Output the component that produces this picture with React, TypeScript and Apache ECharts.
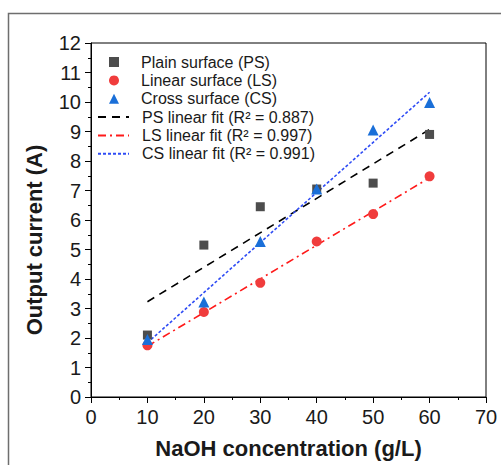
import React, { useEffect, useRef } from "react";
import * as echarts from "echarts";

const concentrations = [10, 20, 30, 40, 50, 60];
const psValues = [2.1, 5.15, 6.45, 7.05, 7.25, 8.9];
const lsValues = [1.75, 2.88, 3.87, 5.27, 6.2, 7.48];
const csValues = [1.95, 3.22, 5.27, 7.05, 9.05, 9.98];

const fitX = [10, 60];
const psFit = [3.23, 9.07];
const lsFit = [1.72, 7.43];
const csFit = [1.84, 10.33];

const scatterNames = ["Plain surface (PS)", "Linear surface (LS)", "Cross surface (CS)"];
const fitNames = [
  "PS linear fit (R² = 0.887)",
  "LS linear fit (R² = 0.997)",
  "CS linear fit (R² = 0.991)",
];

const xTitle = "NaOH concentration (g/L)";
const yTitle = "Output current (A)";

const FONT = "'Liberation Sans', Arial, Helvetica, sans-serif";

const pair = (xs: number[], ys: number[]) => xs.map((x, i) => [x, ys[i]]);

export default function App() {
  const ref = useRef<HTMLDivElement>(null);
  useEffect(() => {
    if (!ref.current) return;
    const chart = echarts.init(ref.current, null, { renderer: "svg" });
    const axisCommon = {
      axisLine: { show: true, onZero: false, lineStyle: { color: "#000", width: 1 } },
      axisTick: { show: true, inside: false, length: 6, lineStyle: { color: "#000", width: 1 } },
      minorTick: { show: true, splitNumber: 2, length: 3, lineStyle: { color: "#000", width: 1 } },
      splitLine: { show: false },
    };
    const labelStyle = { color: "#1a1a1a", fontFamily: FONT, fontSize: 20 };
    chart.setOption({
      animation: false,
      backgroundColor: "#fff",
      grid: {
        left: 91,
        top: 43,
        right: 15,
        bottom: 68,
        show: true,
        borderColor: "#000",
        borderWidth: 1,
        backgroundColor: "transparent",
      },
      xAxis: {
        type: "value",
        min: 0,
        max: 70,
        interval: 10,
        name: xTitle,
        nameLocation: "middle",
        nameGap: 40,
        nameTextStyle: { fontFamily: FONT, fontSize: 22, fontWeight: "bold", color: "#1a1a1a" },
        ...axisCommon,
        axisLabel: { ...labelStyle, margin: 10 },
      },
      yAxis: {
        type: "value",
        min: 0,
        max: 12,
        interval: 1,
        ...axisCommon,
        axisLabel: { ...labelStyle, margin: 10 },
      },
      legend: [
        {
          data: scatterNames,
          orient: "vertical",
          left: 109,
          top: 53,
          padding: 0,
          itemGap: 0.4,
          itemWidth: 10,
          itemHeight: 10,
          textStyle: {
            fontFamily: FONT,
            fontSize: 16,
            lineHeight: 18,
            color: "#1a1a1a",
            padding: [0, 0, 0, 17],
          },
        },
        {
          data: fitNames,
          orient: "vertical",
          left: 97,
          top: 108,
          padding: 0,
          itemGap: 0.4,
          itemWidth: 31,
          itemHeight: 2,
          itemStyle: { opacity: 0 },
          textStyle: {
            fontFamily: FONT,
            fontSize: 16,
            lineHeight: 18,
            color: "#1a1a1a",
            padding: [0, 0, 0, 8],
          },
        },
      ],
      graphic: [
        {
          type: "rect",
          shape: { x: 8.5, y: 13.5, width: 600, height: 600 },
          style: { fill: "none", stroke: "#6e6e6e", lineWidth: 1.5 },
          silent: true,
          z: 100,
        },
        {
          type: "text",
          x: 34,
          y: 240,
          rotation: Math.PI / 2,
          style: {
            text: yTitle,
            fontFamily: FONT,
            fontSize: 22,
            fontWeight: "bold",
            fill: "#1a1a1a",
            align: "center",
            verticalAlign: "middle",
          },
        },
      ],
      series: [
        {
          name: fitNames[0],
          type: "line",
          data: pair(fitX, psFit),
          symbol: "none",
          lineStyle: { color: "#000", width: 1.6, type: [8, 6] },
          itemStyle: { color: "#000" },
          z: 2,
        },
        {
          name: fitNames[1],
          type: "line",
          data: pair(fitX, lsFit),
          symbol: "none",
          lineStyle: { color: "#ff1a1a", width: 1.6, type: [8, 4, 2, 4] },
          itemStyle: { color: "#ff1a1a" },
          z: 2,
        },
        {
          name: fitNames[2],
          type: "line",
          data: pair(fitX, csFit),
          symbol: "none",
          lineStyle: { color: "#2f4cf5", width: 1.6, type: [3, 2] },
          itemStyle: { color: "#2f4cf5" },
          z: 2,
        },
        {
          name: scatterNames[0],
          type: "scatter",
          data: pair(concentrations, psValues),
          symbol: "rect",
          symbolSize: 9,
          itemStyle: { color: "#4d4d4d", opacity: 1 },
          z: 3,
        },
        {
          name: scatterNames[1],
          type: "scatter",
          data: pair(concentrations, lsValues),
          symbol: "circle",
          symbolSize: 10,
          itemStyle: { color: "#f03c3c", opacity: 1 },
          z: 3,
        },
        {
          name: scatterNames[2],
          type: "scatter",
          data: pair(concentrations, csValues),
          symbol: "triangle",
          symbolSize: 11,
          itemStyle: { color: "#1a6fd8", opacity: 1 },
          z: 3,
        },
      ],
    });
    return () => chart.dispose();
  }, []);
  return (
    <div
      ref={ref}
      style={{ position: "absolute", left: 0, top: 0, width: 501, height: 465 }}
    />
  );
}
